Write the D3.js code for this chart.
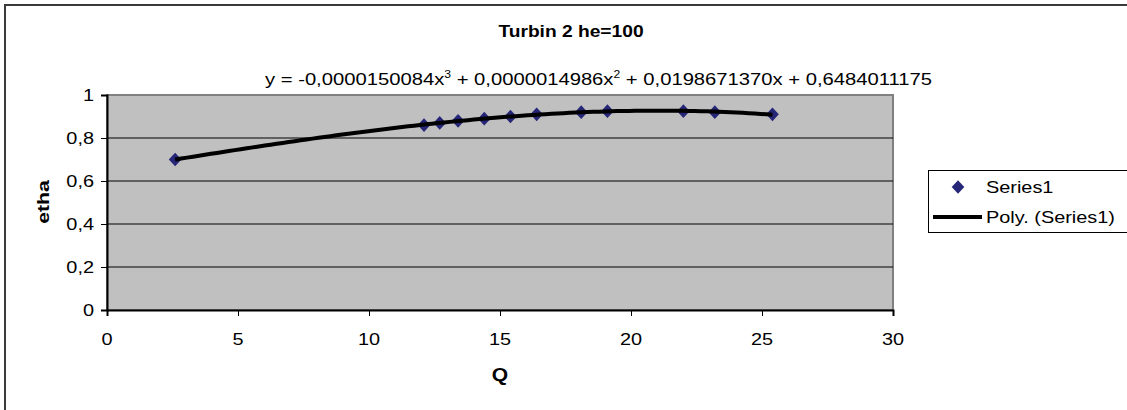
<!DOCTYPE html>
<html>
<head>
<meta charset="utf-8">
<script src="https://cdn.jsdelivr.net/npm/d3@7"></script>
<style>
  html, body { margin: 0; padding: 0; background: #fff; }
  svg { display: block; font-family: "Liberation Sans", Arial, sans-serif; }
</style>
</head>
<body>
<svg id="chart" width="1127" height="410"></svg>
<script>
// Measured turbine efficiency against flow
const qValues = [2.6, 12.1, 12.7, 13.4, 14.4, 15.4, 16.4, 18.1, 19.1, 22.0, 23.2, 25.4];
const ethaValues = [0.70, 0.86, 0.87, 0.88, 0.89, 0.90, 0.91, 0.92, 0.925, 0.925, 0.92, 0.91];

// Cubic trendline coefficients (highest power first)
const trendCoefs = [-0.0000150084, 0.0000014986, 0.0198671370, 0.6484011175];
const trendLabel = ["y = -0,0000150084x", "3", " + 0,0000014986x", "2", " + 0,0198671370x + 0,6484011175"];

const xTicks = [0, 5, 10, 15, 20, 25, 30];
const yTicks = [0, 0.2, 0.4, 0.6, 0.8, 1];

const titleText = "Turbin 2 he=100";
const xTitle = "Q";
const yTitle = "etha";
const legendLabels = ["Series1", "Poly. (Series1)"];

const svg = d3.select("#chart");
const plot = { left: 107, right: 893, top: 95, bottom: 310 };
const FS = 17;
const SX = 1.17;   // horizontal stretch of the lettering
const markerColor = "#262678";

const x = d3.scaleLinear().domain([0, 30]).range([plot.left, plot.right]);
const y = d3.scaleLinear().domain([0, 1]).range([plot.bottom, plot.top]);
const fmt = v => String(v).replace(".", ",");

// place a stretched text at (px, py)
function label(parent, px, py, txt, opts = {}) {
  const rot = opts.rotate ? ` rotate(${opts.rotate})` : "";
  const g = parent.append("g").attr("transform", `translate(${px},${py})${rot} scale(${opts.sx || SX},1)`);
  const t = g.append("text")
    .attr("text-anchor", opts.anchor || "start")
    .attr("font-size", opts.size || FS)
    .attr("font-weight", opts.bold ? "bold" : "normal")
    .attr("fill", "#000")
    .text(txt);
  return t;
}

// outer chart frame
svg.append("rect")
  .attr("x", 5).attr("y", 5).attr("width", 1200).attr("height", 500)
  .attr("fill", "#fff").attr("stroke", "#3a3a3a").attr("stroke-width", 2);

// plot area
svg.append("rect")
  .attr("x", plot.left).attr("y", plot.top)
  .attr("width", plot.right - plot.left).attr("height", plot.bottom - plot.top)
  .attr("fill", "#c0c0c0").attr("stroke", "#808080").attr("stroke-width", 2);

// horizontal gridlines
svg.append("g")
  .selectAll("line")
  .data(yTicks.filter(v => v > 0 && v < 1))
  .join("line")
  .attr("x1", plot.left).attr("x2", plot.right)
  .attr("y1", d => y(d)).attr("y2", d => y(d))
  .attr("stroke", "#000").attr("stroke-width", 1);

// axes
const xAxis = svg.append("g").attr("transform", `translate(0,${plot.bottom})`)
  .call(d3.axisBottom(x).tickValues(xTicks).tickSize(6).tickFormat(""));
const yAxis = svg.append("g").attr("transform", `translate(${plot.left},0)`)
  .call(d3.axisLeft(y).tickValues(yTicks).tickSize(6).tickFormat(""));
[xAxis, yAxis].forEach(a => {
  a.select(".domain").attr("stroke", "#000").attr("stroke-width", 2);
  a.selectAll(".tick line").attr("stroke", "#000").attr("stroke-width", 1);
});

// tick labels
const labels = svg.append("g");
xTicks.forEach(v => label(labels, x(v), 345, fmt(v), { anchor: "middle" }));
yTicks.forEach(v => label(labels, 94, y(v) + 6, fmt(v), { anchor: "end" }));

// trendline drawn from the cubic coefficients over the data range
const poly = q => trendCoefs.reduce((acc, c) => acc * q + c, 0);
const [qMin, qMax] = d3.extent(qValues);
const curve = d3.range(0, 101).map(i => {
  const q = qMin + (qMax - qMin) * i / 100;
  return [q, poly(q)];
});

// diamond markers (a rotated square)
const diamond = d3.symbol().type(d3.symbolSquare).size(80);
svg.append("g")
  .selectAll("path")
  .data(qValues.map((q, i) => [q, ethaValues[i]]))
  .join("path")
  .attr("transform", d => `translate(${x(d[0])},${y(d[1])}) scale(1,1.08) rotate(45)`)
  .attr("d", diamond)
  .attr("fill", markerColor);

svg.append("path")
  .datum(curve)
  .attr("d", d3.line().x(d => x(d[0])).y(d => y(d[1])))
  .attr("fill", "none").attr("stroke", "#000").attr("stroke-width", 4)
  .attr("stroke-linejoin", "round");

// title and axis titles
label(svg, (plot.left + plot.right) / 2 + 71, 37, titleText, { anchor: "middle", bold: true, size: 16, sx: 1.2 });
label(svg, (plot.left + plot.right) / 2, 381, xTitle, { anchor: "middle", bold: true, size: 18 });
label(svg, 49, 202, yTitle, { anchor: "middle", bold: true, size: 17, rotate: -90, sx: 1.25 });

// trendline equation
const eqG = svg.append("g").attr("transform", `translate(265,85) scale(1.19,1)`);
const eq = eqG.append("text").attr("font-size", FS).attr("fill", "#000");
trendLabel.forEach((s, i) => {
  const sup = i % 2 === 1;
  eq.append("tspan")
    .attr("font-size", sup ? FS * 0.6 : FS)
    .attr("dy", sup ? -7 : (i > 0 ? 7 : 0))
    .text(s);
});

// legend
const lg = svg.append("g");
lg.append("rect")
  .attr("x", 928.5).attr("y", 170.5).attr("width", 220).attr("height", 62)
  .attr("fill", "#fff").attr("stroke", "#000").attr("stroke-width", 1);
lg.append("path")
  .attr("transform", "translate(958,187) scale(1,1.08) rotate(45)")
  .attr("d", diamond).attr("fill", markerColor);
lg.append("line")
  .attr("x1", 933).attr("x2", 982).attr("y1", 217).attr("y2", 217)
  .attr("stroke", "#000").attr("stroke-width", 4);
label(lg, 986, 193, legendLabels[0]);
label(lg, 986, 223, legendLabels[1]);
</script>
</body>
</html>
